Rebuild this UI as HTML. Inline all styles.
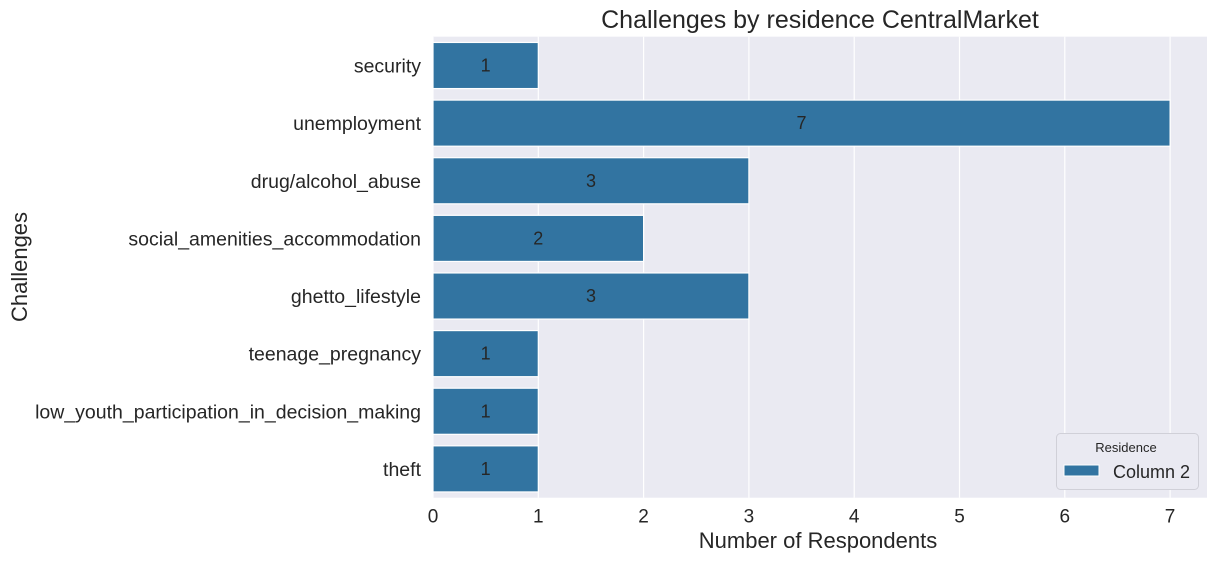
<!DOCTYPE html>
<html><head><meta charset="utf-8"><style>
body{margin:0;background:#fff;font-family:"Liberation Sans",Arial,sans-serif}
svg text{font-family:"Liberation Sans",Arial,sans-serif}
</style></head><body>
<svg id="c" width="1216" height="561"></svg>
<script>
const categories=["security","unemployment","drug/alcohol_abuse","social_amenities_accommodation","ghetto_lifestyle","teenage_pregnancy","low_youth_participation_in_decision_making","theft"];
const values=[1,7,3,2,3,1,1,1];
const xTicks=[0,1,2,3,4,5,6,7];
const NS="http://www.w3.org/2000/svg";
const svg=document.getElementById('c');
const L=433,R=1207,T=36.7,B=497.7;
const xs=v=>L+v*105.3;
const band=(B-T)/categories.length;
const yc=i=>T+band*(i+0.5);
function el(t,a,txt){const e=document.createElementNS(NS,t);for(const k in a)e.setAttribute(k,a[k]);if(txt!=null)e.textContent=txt;svg.appendChild(e);return e;}
let e=el('rect',{x:L,y:T,width:R-L,height:B-T,fill:'#eaeaf2'});

xTicks.forEach(t=>{
 let g=el('line',{x1:xs(t),x2:xs(t),y1:T,y2:B,stroke:'#fff','stroke-width':1.2});
 
 let l=el('text',{x:xs(t),y:B+25,'text-anchor':'middle','font-size':19,fill:'#262626'},String(t));
 
});
categories.forEach((c,i)=>{
 const h=band*0.8;
 let b=el('rect',{x:xs(0),y:yc(i)-h/2,width:xs(values[i])-xs(0),height:h,fill:'#3274a1',stroke:'#fff','stroke-width':1.2});
 
 let v=el('text',{x:xs(values[i]/2),y:yc(i)+6,'text-anchor':'middle','font-size':18,fill:'#262626'},String(values[i]));
 
 let l=el('text',{x:L-12,y:yc(i)+7,'text-anchor':'end','font-size':19.5,fill:'#262626'},c);
 
});
let t=el('text',{x:820,y:28,'text-anchor':'middle','font-size':25,fill:'#262626'},'Challenges by residence CentralMarket');

let xt=el('text',{x:818,y:548,'text-anchor':'middle','font-size':22,fill:'#262626'},'Number of Respondents');

let yt=el('text',{x:0,y:0,'text-anchor':'middle','font-size':22,fill:'#262626',transform:'translate(27,267) rotate(-90)'},'Challenges');

let lg=el('rect',{x:1056.5,y:433.5,width:142,height:56,rx:4,fill:'#eaeaf2',stroke:'#d0d0d8'});

let lt=el('text',{x:1126,y:452,'text-anchor':'middle','font-size':13,fill:'#262626'},'Residence');

let ls=el('rect',{x:1064,y:465,width:35,height:11,fill:'#3274a1',stroke:'#fff'});

let le=el('text',{x:1113,y:478,'font-size':18,fill:'#262626'},'Column 2');

</script>
</body></html>
